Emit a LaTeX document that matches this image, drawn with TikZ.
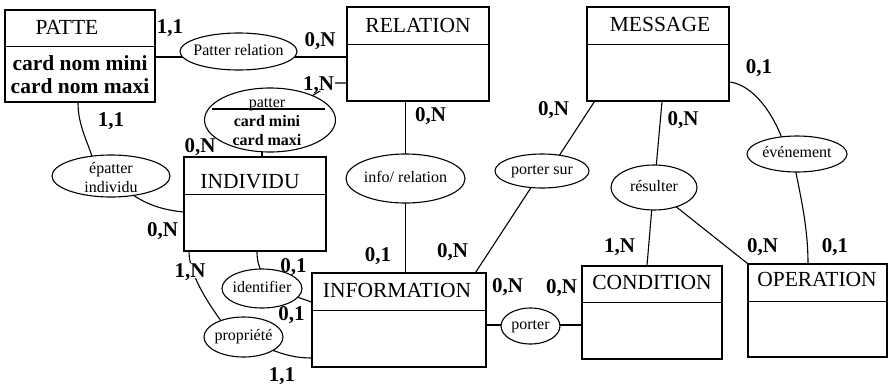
\documentclass[tikz,border=0pt]{standalone}
\usepackage{fontspec}
\setmainfont{Liberation Serif}
\usetikzlibrary{shapes.geometric}
\pgfdeclarelayer{bg}
\pgfsetlayers{bg,main}
\begin{document}
\begin{tikzpicture}[x=1pt,y=-1pt,
  ent/.style={draw,line width=1.2pt,rectangle,inner sep=0pt},
  div/.style={line width=1.2pt},
  ttl/.style={inner sep=0pt,text depth=0pt,font=\fontsize{21.5}{24}\selectfont},
  crd/.style={inner sep=0pt,text depth=0pt,font=\bfseries\fontsize{21}{24}\selectfont},
  crdw/.style={crd,fill=white,inner sep=1pt},
  asc/.style={draw,line width=1.1pt,ellipse,fill=white,inner sep=0pt},
  atx/.style={inner sep=0pt,text height=11pt,text depth=3.5pt,align=center,font=\fontsize{16}{19}\selectfont},
  lnk/.style={line width=1.1pt}]
\useasboundingbox (0,0) rectangle (888,386);

% entities
\node[ent,minimum width=150pt,minimum height=92pt] (patte) at (80,56) {};
\draw[div] ([yshift=-37pt]patte.north west) -- ([yshift=-37pt]patte.north east);
\node[ttl] (patte-t) at (67,27) {PATTE};
\node[inner sep=0pt,align=center,font=\bfseries\fontsize{21.5}{23}\selectfont] (patte-a) at (80,75) {card nom mini\\card nom maxi};

\node[ent,minimum width=142pt,minimum height=94pt] (relation) at (418,54) {};
\draw[div] ([yshift=-38pt]relation.north west) -- ([yshift=-38pt]relation.north east);
\node[ttl] (relation-t) at (418,25) {RELATION};

\node[ent,minimum width=142pt,minimum height=94pt] (message) at (658,54) {};
\draw[div] ([yshift=-38pt]message.north west) -- ([yshift=-38pt]message.north east);
\node[ttl] (message-t) at (660,24) {MESSAGE};

\node[ent,minimum width=142pt,minimum height=94pt] (individu) at (255,204) {};
\draw[div] ([yshift=-38pt]individu.north west) -- ([yshift=-38pt]individu.north east);
\node[ttl] (individu-t) at (250,181) {INDIVIDU};

\node[ent,minimum width=174pt,minimum height=94pt] (information) at (399,320) {};
\draw[div] ([yshift=-38pt]information.north west) -- ([yshift=-38pt]information.north east);
\node[ttl] (information-t) at (397,290) {INFORMATION};

\node[ent,minimum width=140pt,minimum height=93pt] (condition) at (652,312.5) {};
\draw[div] ([yshift=-37pt]condition.north west) -- ([yshift=-37pt]condition.north east);
\node[ttl] (condition-t) at (652,282) {CONDITION};

\node[ent,minimum width=139pt,minimum height=93pt] (operation) at (817.5,310.5) {};
\draw[div] ([yshift=-38pt]operation.north west) -- ([yshift=-38pt]operation.north east);
\node[ttl] (operation-t) at (817,279) {OPERATION};

% associations
\node[asc,minimum width=117pt,minimum height=37pt] (pr) at (238.5,51.5) {};
\node[atx] (pr-t) at (pr) {Patter relation};

\node[asc,minimum width=131pt,minimum height=64pt] (pt) at (270,120) {};
\draw[lnk] ([xshift=-58pt,yshift=11pt]pt.center) -- ([xshift=55pt,yshift=11pt]pt.center);
\node[atx] (pt-t) at (267,103.5) {patter};
\node[atx,font=\bfseries\fontsize{16}{19}\selectfont] (pt-a) at (267,123) {card mini};
\node[atx,font=\bfseries\fontsize{16}{19}\selectfont] (pt-b) at (267,142) {card maxi};

\node[asc,minimum width=118pt,minimum height=42pt] (ep) at (111,176) {};
\node[atx] (ep-t) at (111,170) {épatter};
\node[atx] (ep-u) at (111,189) {individu};

\node[asc,minimum width=80pt,minimum height=39pt] (id) at (262,288.5) {};
\node[atx] (id-t) at (id) {identifier};

\node[asc,minimum width=79pt,minimum height=40pt] (pro) at (243.5,337) {};
\node[atx] (pro-t) at (pro) {propriété};

\node[asc,minimum width=119pt,minimum height=49pt] (ir) at (405.5,178.5) {};
\node[atx] (ir-t) at (ir) {info/ relation};

\node[asc,minimum width=94pt,minimum height=34pt] (ps) at (542,171) {};
\node[atx] (ps-t) at (ps) {porter sur};

\node[asc,minimum width=59pt,minimum height=36pt] (po) at (530.5,326) {};
\node[atx] (po-t) at (po) {porter};

\node[asc,minimum width=86pt,minimum height=45pt] (res) at (654,187.5) {};
\node[atx] (res-t) at (res) {résulter};

\node[asc,minimum width=100pt,minimum height=36pt] (ev) at (797,154) {};
\node[atx] (ev-t) at (ev) {événement};

% connectors
\begin{pgfonlayer}{bg}
\draw[lnk] ([yshift=-1pt]patte.east) -- ([yshift=-1pt]patte.east -| relation.west);
\draw[lnk] (pt.30) -- ([xshift=-13pt,yshift=-29pt]relation.west) -- ([yshift=-29pt]relation.west);
\draw[lnk] ([xshift=7pt]individu.north) -- ([xshift=7pt]individu.north |- pt.center);
\draw[lnk] ([xshift=-2pt]patte.south) .. controls +(0,22) and +(-5,-16) .. ([xshift=-19pt,yshift=-2pt]ep.north);
\draw[lnk] ([xshift=22pt,yshift=-19pt]ep.center) .. controls +(15,10) and +(-20,-2) .. ([yshift=-8pt]individu.west);
\draw[lnk] ([xshift=-66pt]individu.south) .. controls +(0,25) and +(-10,-14) .. ([xshift=-21pt,yshift=14pt]pro.center);
\draw[lnk] ([xshift=2pt]individu.south) .. controls +(0,9) and +(-3,-5) .. ([yshift=-4pt]id.north);
\draw[lnk] ([xshift=28pt,yshift=-6pt]id.center) -- ([yshift=18pt]information.west);
\draw[lnk] ([xshift=26pt,yshift=-12pt]pro.center) .. controls +(15,6) and +(-15,0) .. ([yshift=-38pt]information.west);
\draw[lnk] (ir.north |- relation.south) -- (ir.center);
\draw[lnk] (ir.center) -- (ir.center |- information.north);
\draw[lnk] ([xshift=-11pt]information.north east) -- ([xshift=-9pt,yshift=4pt]ps.south);
\draw[lnk] ([xshift=8pt]message.south west) -- ([xshift=16pt,yshift=-4pt]ps.north);
\draw[lnk] ([yshift=-5pt]information.east) -- ([yshift=-5pt]information.east -| condition.west);
\draw[lnk] ([xshift=4pt]message.south) -- ([xshift=2pt,yshift=-4pt]res.north);
\draw[lnk] ([xshift=-2pt,yshift=4pt]res.south) -- ([xshift=-5pt]condition.north);
\draw[lnk] ([xshift=18pt,yshift=-16pt]res.center) -- (operation.north west);
\draw[lnk] ([yshift=-28pt]message.east) .. controls +(25,3) and +(-8,-22) .. ([xshift=-15pt,yshift=-3pt]ev.north);
\draw[lnk] ([xshift=-2pt,yshift=-14pt]ev.center) .. controls +(6,30) and +(0,-35) .. ([xshift=-9.5pt]operation.north);
\end{pgfonlayer}

% cardinalities
\node[crd] (l1) at (170,27) {1,1};
\node[crd] (l2) at (320,40) {0,N};
\node[crdw] (l3) at (318.5,83.5) {1,N};
\node[crd] (l4) at (430.5,115) {0,N};
\node[crd] (l5) at (553.5,108.5) {0,N};
\node[crd] (l6) at (683,119) {0,N};
\node[crd] (l7) at (759,66.5) {0,1};
\node[crd] (l8) at (111,120) {1,1};
\node[crd] (l9) at (200,146) {0,N};
\node[crd] (l10) at (162.5,229.5) {0,N};
\node[crdw] (l11) at (190,270.5) {1,N};
\node[crd] (l12) at (293.5,266) {0,1};
\node[crd] (l13) at (291.5,313.5) {0,1};
\node[crd] (l14) at (282,375) {1,1};
\node[crd] (l15) at (378,254.5) {0,1};
\node[crd] (l16) at (452.5,250.5) {0,N};
\node[crd] (l17) at (507.5,285.5) {0,N};
\node[crd] (l18) at (561.5,287) {0,N};
\node[crd] (l19) at (619.5,245.5) {1,N};
\node[crd] (l20) at (762.5,245.5) {0,N};
\node[crd] (l21) at (835,245.5) {0,1};
\end{tikzpicture}
\end{document}
